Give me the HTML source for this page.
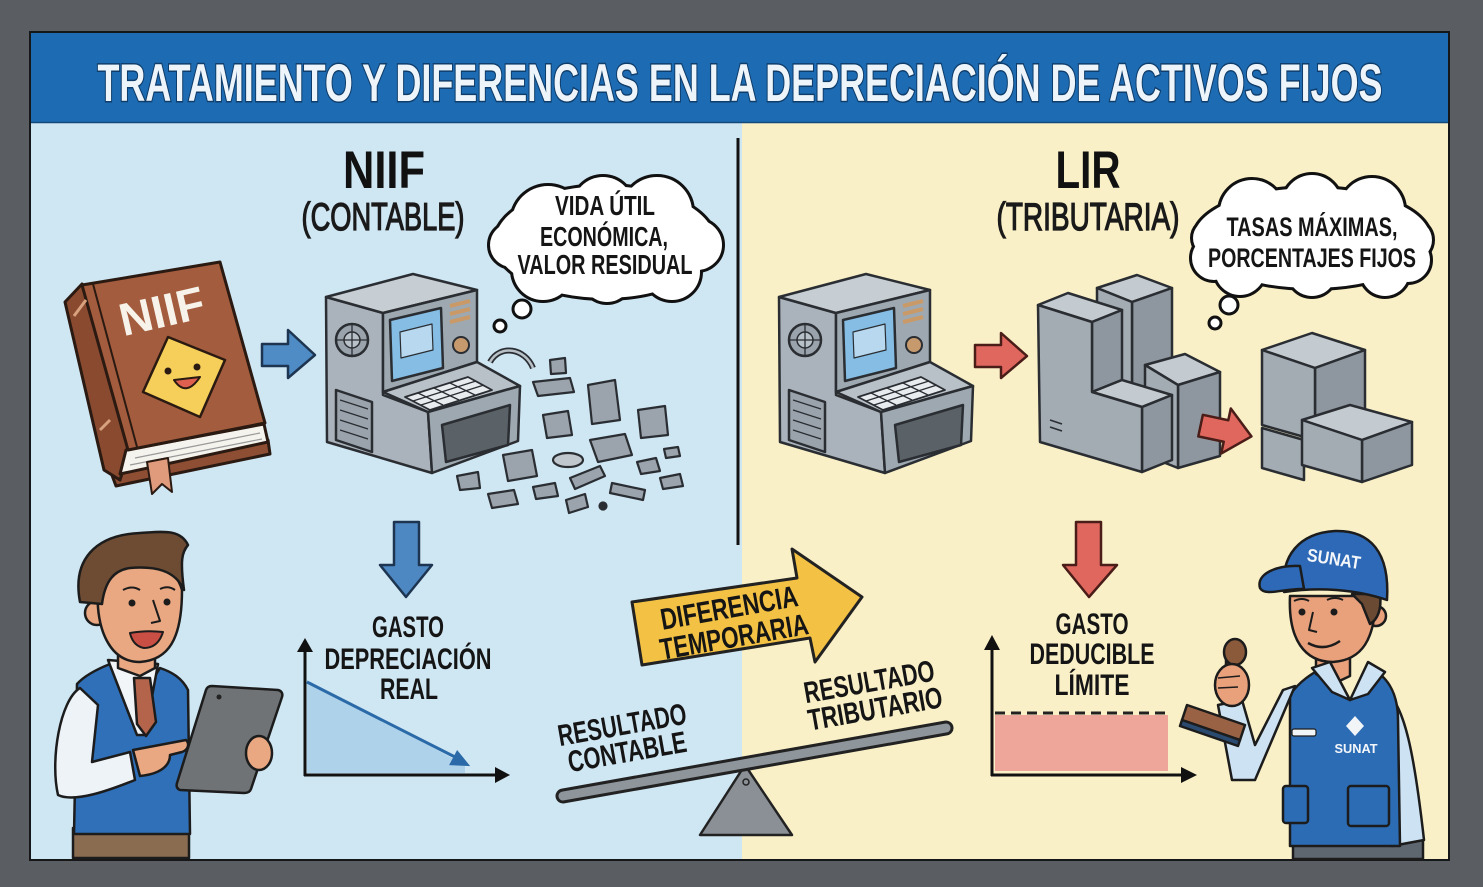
<!DOCTYPE html>
<html><head><meta charset="utf-8">
<style>
html,body{margin:0;padding:0;background:#5a5e62;}
svg{display:block;}
text{font-family:"Liberation Sans",Arial,sans-serif;font-weight:bold;}
</style></head><body>
<svg width="1483" height="887" viewBox="0 0 1483 887" xmlns="http://www.w3.org/2000/svg">
<rect width="1483" height="887" fill="#5a5e62"/>
<rect x="29" y="31" width="1421" height="830" fill="#161718"/>
<rect x="31" y="122" width="711" height="737" fill="#cfe6f3"/>
<rect x="742" y="122" width="706" height="737" fill="#faf0c7"/>
<rect x="31" y="33" width="1417" height="90" fill="#1d6cb3"/>
<line x1="31" y1="122.5" x2="1448" y2="122.5" stroke="#15497a" stroke-width="1.5"/>
<line x1="738" y1="138" x2="738" y2="545" stroke="#111" stroke-width="3"/>

<!-- Title -->
<text x="740" y="101" text-anchor="middle" font-size="53" fill="#eef5fa" stroke="#0f3d6b" stroke-width="3" paint-order="stroke" textLength="1285" lengthAdjust="spacingAndGlyphs">TRATAMIENTO Y DIFERENCIAS EN LA DEPRECIACIÓN DE ACTIVOS FIJOS</text>

<!-- Headings -->
<text x="384" y="188" text-anchor="middle" font-size="53" fill="#111" textLength="82" lengthAdjust="spacingAndGlyphs">NIIF</text>
<text x="383" y="230" text-anchor="middle" font-size="39" fill="#1a1a1a" style="font-weight:normal" stroke="#1a1a1a" stroke-width="1.3" textLength="163" lengthAdjust="spacingAndGlyphs">(CONTABLE)</text>
<text x="1088" y="188" text-anchor="middle" font-size="53" fill="#111" textLength="65" lengthAdjust="spacingAndGlyphs">LIR</text>
<text x="1088" y="230" text-anchor="middle" font-size="39" fill="#1a1a1a" style="font-weight:normal" stroke="#1a1a1a" stroke-width="1.3" textLength="183" lengthAdjust="spacingAndGlyphs">(TRIBUTARIA)</text>

<!-- Left cloud -->
<g fill="#fff" stroke="#111" stroke-width="6">
<circle cx="548" cy="222" r="36"/><circle cx="603" cy="207" r="30"/><circle cx="657" cy="212" r="35"/><circle cx="697" cy="245" r="25"/><circle cx="672" cy="272" r="28"/><circle cx="607" cy="277" r="25"/><circle cx="543" cy="270" r="30"/><circle cx="512" cy="245" r="22"/><ellipse cx="605" cy="242" rx="110" ry="56"/>
</g>
<g fill="#fff">
<circle cx="548" cy="222" r="36"/><circle cx="603" cy="207" r="30"/><circle cx="657" cy="212" r="35"/><circle cx="697" cy="245" r="25"/><circle cx="672" cy="272" r="28"/><circle cx="607" cy="277" r="25"/><circle cx="543" cy="270" r="30"/><circle cx="512" cy="245" r="22"/><ellipse cx="605" cy="242" rx="110" ry="56"/>
</g>
<circle cx="522" cy="309" r="9" fill="#fff" stroke="#111" stroke-width="3"/>
<circle cx="500" cy="326" r="6" fill="#fff" stroke="#111" stroke-width="3"/>
<text x="605" y="215" text-anchor="middle" font-size="28" fill="#151515" textLength="100" lengthAdjust="spacingAndGlyphs">VIDA ÚTIL</text>
<text x="604" y="246" text-anchor="middle" font-size="28" fill="#151515" textLength="128" lengthAdjust="spacingAndGlyphs">ECONÓMICA,</text>
<text x="605" y="274" text-anchor="middle" font-size="28" fill="#151515" textLength="175" lengthAdjust="spacingAndGlyphs">VALOR RESIDUAL</text>

<!-- Right cloud -->
<g fill="#fff" stroke="#111" stroke-width="6">
<circle cx="1252" cy="212" r="32"/><circle cx="1312" cy="204" r="29"/><circle cx="1372" cy="210" r="32"/><circle cx="1412" cy="240" r="20"/><circle cx="1408" cy="260" r="22"/><circle cx="1385" cy="272" r="24"/><circle cx="1312" cy="272" r="24"/><circle cx="1240" cy="270" r="25"/><circle cx="1214" cy="258" r="22"/><circle cx="1211" cy="238" r="18"/><ellipse cx="1312" cy="238" rx="118" ry="50"/>
</g>
<g fill="#fff">
<circle cx="1252" cy="212" r="32"/><circle cx="1312" cy="204" r="29"/><circle cx="1372" cy="210" r="32"/><circle cx="1412" cy="240" r="20"/><circle cx="1408" cy="260" r="22"/><circle cx="1385" cy="272" r="24"/><circle cx="1312" cy="272" r="24"/><circle cx="1240" cy="270" r="25"/><circle cx="1214" cy="258" r="22"/><circle cx="1211" cy="238" r="18"/><ellipse cx="1312" cy="238" rx="118" ry="50"/>
</g>
<circle cx="1229" cy="305" r="9" fill="#fff" stroke="#111" stroke-width="3"/>
<circle cx="1215" cy="323" r="6" fill="#fff" stroke="#111" stroke-width="3"/>
<text x="1312" y="236" text-anchor="middle" font-size="27" fill="#151515" textLength="171" lengthAdjust="spacingAndGlyphs">TASAS MÁXIMAS,</text>
<text x="1312" y="267" text-anchor="middle" font-size="27" fill="#151515" textLength="208" lengthAdjust="spacingAndGlyphs">PORCENTAJES FIJOS</text>

<!-- Book -->
<g stroke="#2a1a12" stroke-width="3" stroke-linejoin="round">
<polygon points="110,470 268,440 270,454 116,486" fill="#8e4e33"/>
<polygon points="65,302 82,284 130,448 120,480 104,470" fill="#8a4a2f"/>
<polygon points="126,450 264,424 268,442 120,474" fill="#f5f3ee"/>
<polygon points="82,285 220,262 265,423 128,450" fill="#a35c3d"/>
<line x1="93" y1="284" x2="137" y2="447" stroke-width="2"/>
<line x1="74" y1="316" x2="86" y2="300" stroke="#d9a27f" stroke-width="3"/>
<line x1="100" y1="430" x2="110" y2="420" stroke="#d9a27f" stroke-width="3"/>
<line x1="135" y1="458" x2="260" y2="433" stroke="#999" stroke-width="1.2"/>
<line x1="130" y1="465" x2="262" y2="439" stroke="#999" stroke-width="1.2"/>
<polygon points="147,462 168,458 172,492 162,484 152,494" fill="#e09a7c" stroke-width="2"/>
<polygon points="168,337 225,360 200,417 143,392" fill="#f5cf59" stroke-width="2.5"/>
<circle cx="168" cy="371" r="3.5" fill="#2a1a12" stroke="none"/>
<circle cx="197" cy="367" r="3.5" fill="#2a1a12" stroke="none"/>
<path d="M174,380 Q186,398 200,377 Z" fill="#e0604f" stroke-width="2"/>
</g>
<text x="162" y="327" text-anchor="middle" font-size="46" fill="#f7f2ea" transform="rotate(-13 162 312)" textLength="86" lengthAdjust="spacingAndGlyphs">NIIF</text>

<!-- Blue arrow -->
<polygon points="262,344 288,344 288,330 315,355 288,378 288,366 262,366" fill="#4f8bc4" stroke="#1d3550" stroke-width="2.5" stroke-linejoin="round"/>

<!-- Left computer -->
<g id="comp" stroke="#2a2e33" stroke-width="2.5" stroke-linejoin="round">
<polygon points="326,297 383,313 383,395 428,412 432,473 327,442" fill="#aab3bb"/>
<polygon points="326,297 413,274 477,290 383,313" fill="#c6cdd3"/>
<polygon points="383,313 477,290 477,362 383,392" fill="#9ea8b0"/>
<polygon points="390,320 441,308 443,368 392,381" fill="#86bde4"/>
<polygon points="400,332 432,324 433,350 401,358" fill="#b7d8ef" stroke-width="1.2"/>
<line x1="450" y1="306" x2="470" y2="301" stroke="#c99a68" stroke-width="4"/>
<line x1="450" y1="314" x2="470" y2="309" stroke="#c99a68" stroke-width="4"/>
<line x1="450" y1="322" x2="470" y2="317" stroke="#c99a68" stroke-width="4"/>
<circle cx="461" cy="345" r="8" fill="#c79a6e" stroke-width="2"/>
<polygon points="383,392 477,362 520,386 428,412" fill="#b9c1c8"/>
<polygon points="405,397 468,377 492,390 430,410" fill="#e8ecef" stroke-width="1.8"/>
<line x1="413" y1="401" x2="476" y2="381" stroke-width="1.3"/>
<line x1="421" y1="405" x2="484" y2="385" stroke-width="1.3"/>
<line x1="418" y1="393" x2="443" y2="405" stroke-width="1.3"/>
<line x1="434" y1="388" x2="459" y2="400" stroke-width="1.3"/>
<line x1="450" y1="383" x2="475" y2="395" stroke-width="1.3"/>
<polygon points="428,412 520,386 518,441 432,473" fill="#9ea8b0"/>
<polygon points="442,425 510,405 508,445 446,462" fill="#5a6167"/>
<circle cx="352" cy="340" r="16" fill="#9aa3ab"/>
<circle cx="352" cy="340" r="8" fill="#b9c1c8" stroke-width="1.5"/>
<line x1="336" y1="340" x2="368" y2="340" stroke-width="1.3"/>
<line x1="352" y1="324" x2="352" y2="356" stroke-width="1.3"/>
<polygon points="336,390 372,402 372,452 336,440" fill="#9aa3ab"/>
<line x1="340" y1="400" x2="368" y2="409" stroke-width="1.3"/>
<line x1="340" y1="410" x2="368" y2="419" stroke-width="1.3"/>
<line x1="340" y1="420" x2="368" y2="429" stroke-width="1.3"/>
<line x1="340" y1="430" x2="368" y2="439" stroke-width="1.3"/>
</g>
<!-- Right computer -->
<use href="#comp" transform="translate(453,0)"/>

<!-- Debris -->
<g stroke="#2a2e33" stroke-width="2.2" fill="#9ba4ac" stroke-linejoin="round">
<path d="M490,362 C500,344 525,348 533,368" fill="none" stroke-width="6"/>
<path d="M490,362 C500,344 525,348 533,368" fill="none" stroke="#b9c1c8" stroke-width="2.5"/>
<polygon points="533,382 570,378 574,392 538,396"/>
<polygon points="550,360 565,358 566,373 551,374"/>
<polygon points="588,385 615,380 620,420 592,424"/>
<polygon points="638,410 665,406 668,435 641,438"/>
<polygon points="543,415 568,411 572,435 547,438"/>
<polygon points="590,440 625,434 632,455 598,462"/>
<ellipse cx="568" cy="460" rx="15" ry="7" fill="#c0c7cd"/>
<polygon points="503,455 532,450 537,476 508,481"/>
<polygon points="637,462 656,458 660,471 641,474"/>
<polygon points="664,449 678,447 680,456 666,458"/>
<polygon points="660,478 680,474 683,486 663,489"/>
<polygon points="570,478 600,466 605,476 575,489"/>
<polygon points="612,483 645,490 643,500 610,493"/>
<polygon points="533,487 555,483 558,496 536,499"/>
<polygon points="488,494 514,490 518,504 492,508"/>
<polygon points="566,500 585,494 588,507 569,513"/>
<circle cx="603" cy="506" r="3.5" fill="#2a2e33"/>
<polygon points="457,476 478,472 480,488 460,490"/>
</g>

<!-- Red arrow 1 -->
<polygon points="975,345 1001,345 1001,333 1027,356 1001,378 1001,367 975,367" fill="#e0675d" stroke="#4a1d18" stroke-width="2.5" stroke-linejoin="round"/>

<!-- Blocks -->
<g stroke="#2a2e33" stroke-width="2.5" stroke-linejoin="round">
<polygon points="1097,288 1137,275 1172,288 1132,302" fill="#c3cad0"/>
<polygon points="1132,302 1172,288 1172,385 1132,398" fill="#8e979f"/>
<polygon points="1097,288 1132,302 1132,398 1097,385" fill="#a3abb3"/>
<polygon points="1145,365 1185,354 1220,372 1178,385" fill="#c3cad0"/>
<polygon points="1178,385 1220,372 1220,456 1178,468" fill="#8e979f"/>
<polygon points="1145,365 1178,385 1178,468 1145,455" fill="#a3abb3"/>
<polygon points="1038,305 1068,293 1122,310 1092,322" fill="#c3cad0"/>
<polygon points="1092,322 1122,310 1122,380 1092,392" fill="#8e979f"/>
<polygon points="1092,392 1122,380 1172,395 1142,407" fill="#c3cad0"/>
<polygon points="1142,407 1172,395 1172,460 1142,472" fill="#8e979f"/>
<polygon points="1038,305 1092,322 1092,392 1142,407 1142,472 1040,442" fill="#a3abb3"/>
<line x1="1050" y1="420" x2="1062" y2="424" stroke-width="1.5"/>
<line x1="1050" y1="427" x2="1062" y2="431" stroke-width="1.5"/>
<polygon points="1262,350 1312,333 1365,350 1315,368" fill="#c3cad0"/>
<polygon points="1315,368 1365,350 1365,420 1315,440" fill="#8e979f"/>
<polygon points="1262,350 1315,368 1315,440 1262,425" fill="#a3abb3"/>
<polygon points="1262,428 1304,440 1304,480 1262,468" fill="#a3abb3"/>
<polygon points="1302,420 1350,405 1412,422 1362,440" fill="#c3cad0"/>
<polygon points="1362,440 1412,422 1412,465 1362,482" fill="#8e979f"/>
<polygon points="1302,420 1362,440 1362,482 1302,465" fill="#a3abb3"/>
</g>
<!-- Red arrow 2 -->
<polygon points="1200,420 1226,420 1226,408 1252,431 1226,454 1226,442 1200,442" fill="#e0675d" stroke="#4a1d18" stroke-width="2.5" stroke-linejoin="round" transform="rotate(12 1226 431)"/>

<!-- Down arrows -->
<polygon points="394,522 419,522 419,565 432,565 406,597 380,565 394,565" fill="#4e88c2" stroke="#1d3550" stroke-width="2.5" stroke-linejoin="round"/>
<polygon points="1076,522 1101,522 1101,565 1117,565 1089,597 1063,565 1076,565" fill="#e0675d" stroke="#4a1d18" stroke-width="2.5" stroke-linejoin="round"/>

<!-- Gasto texts -->
<text x="408" y="637" text-anchor="middle" font-size="30" fill="#151515" textLength="72" lengthAdjust="spacingAndGlyphs">GASTO</text>
<text x="408" y="669" text-anchor="middle" font-size="30" fill="#151515" textLength="167" lengthAdjust="spacingAndGlyphs">DEPRECIACIÓN</text>
<text x="409" y="699" text-anchor="middle" font-size="30" fill="#151515" textLength="58" lengthAdjust="spacingAndGlyphs">REAL</text>
<text x="1092" y="634" text-anchor="middle" font-size="30" fill="#151515" textLength="73" lengthAdjust="spacingAndGlyphs">GASTO</text>
<text x="1092" y="664" text-anchor="middle" font-size="30" fill="#151515" textLength="125" lengthAdjust="spacingAndGlyphs">DEDUCIBLE</text>
<text x="1092" y="695" text-anchor="middle" font-size="30" fill="#151515" textLength="75" lengthAdjust="spacingAndGlyphs">LÍMITE</text>

<!-- Left chart -->
<polygon points="307,680 465,765 465,773 307,773" fill="#aed2ea"/>
<line x1="307" y1="682" x2="455" y2="757" stroke="#2b6aa8" stroke-width="3"/>
<polygon points="468,765 450.7,764.2 457.3,751.8" fill="#2b6aa8" stroke="#2b6aa8" stroke-width="2"/>
<line x1="305" y1="650" x2="305" y2="776" stroke="#111" stroke-width="3"/>
<polygon points="297,652 305,638 313,652" fill="#111"/>
<line x1="304" y1="775" x2="497" y2="775" stroke="#111" stroke-width="3"/>
<polygon points="495,767 510,775 495,783" fill="#111"/>

<!-- Right chart -->
<rect x="995" y="715" width="173" height="56" fill="#eea69b"/>
<line x1="995" y1="713" x2="1168" y2="713" stroke="#222" stroke-width="3" stroke-dasharray="10 6"/>
<line x1="992" y1="650" x2="992" y2="776" stroke="#111" stroke-width="3"/>
<polygon points="984,650 992,635 1000,650" fill="#111"/>
<line x1="991" y1="775" x2="1183" y2="775" stroke="#111" stroke-width="3"/>
<polygon points="1181,767 1197,775 1181,783" fill="#111"/>

<!-- Diferencia arrow -->
<polygon points="632,602 797,578 792,549 862,597 815,662 810,638 642,665" fill="#f3c244" stroke="#222" stroke-width="3" stroke-linejoin="round"/>
<text x="729" y="618" text-anchor="middle" font-size="30" fill="#151515" transform="rotate(-10 729 607)" textLength="139" lengthAdjust="spacingAndGlyphs">DIFERENCIA</text>
<text x="734" y="647" text-anchor="middle" font-size="30" fill="#151515" transform="rotate(-10 734 636)" textLength="150" lengthAdjust="spacingAndGlyphs">TEMPORARIA</text>

<!-- Seesaw -->
<polygon points="745,765 700,835 792,835" fill="#8a9096" stroke="#222" stroke-width="2.5" stroke-linejoin="round"/>
<circle cx="746" cy="782" r="3" fill="none" stroke="#222" stroke-width="1.5"/>
<line x1="563" y1="796" x2="946" y2="728" stroke="#222" stroke-width="15" stroke-linecap="round"/>
<line x1="563" y1="796" x2="946" y2="728" stroke="#8e959b" stroke-width="9" stroke-linecap="round"/>
<text x="622" y="735" text-anchor="middle" font-size="30" fill="#151515" transform="rotate(-10 622 724)" textLength="130" lengthAdjust="spacingAndGlyphs">RESULTADO</text>
<text x="627" y="762" text-anchor="middle" font-size="30" fill="#151515" transform="rotate(-10 627 751)" textLength="120" lengthAdjust="spacingAndGlyphs">CONTABLE</text>
<text x="869" y="692" text-anchor="middle" font-size="30" fill="#151515" transform="rotate(-10 869 681)" textLength="132" lengthAdjust="spacingAndGlyphs">RESULTADO</text>
<text x="875" y="719" text-anchor="middle" font-size="30" fill="#151515" transform="rotate(-10 875 708)" textLength="136" lengthAdjust="spacingAndGlyphs">TRIBUTARIO</text>

<!-- Left person -->
<g stroke="#1c1c1c" stroke-width="2.5" stroke-linejoin="round">
<rect x="73" y="828" width="116" height="30" fill="#8a6c51"/>
<path d="M77,684 C85,675 100,668 110,664 L140,700 L160,668 C172,672 182,678 188,690 L190,834 L74,834 Z" fill="#2f70b9"/>
<polygon points="108,660 158,664 145,735 137,735" fill="#f2f5f8"/>
<polygon points="134,678 150,678 156,722 146,736 137,724" fill="#b4644a"/>
<path d="M118,645 L155,645 L155,668 L140,676 L118,668 Z" fill="#e9a882"/>
<path d="M80,688 C60,700 50,760 58,795 C75,803 110,790 135,780 L130,752 L92,762 L98,705 Z" fill="#eef3f7"/>
<path d="M133,750 L186,740 C190,744 188,750 182,752 L170,755 C170,766 160,774 140,776 Z" fill="#e9a882"/>
<path d="M212,686 L278,690 C282,691 283,694 282,697 L251,789 C250,792 247,793 244,793 L180,790 C177,789 176,786 177,783 L206,690 C207,687 209,686 212,686 Z" fill="#6f7376"/>
<circle cx="219" cy="697" r="2.5" fill="#222" stroke="none"/>
<ellipse cx="259" cy="753" rx="13" ry="17" fill="#e9a882"/>
<circle cx="97" cy="613" r="12" fill="#e9a882"/>
<path d="M98,585 C95,630 110,662 140,662 C168,660 182,640 182,590 C175,565 150,560 130,565 C115,570 100,575 98,585 Z" fill="#e9a882"/>
<path d="M80,602 C72,560 95,535 140,533 C160,532 180,528 188,545 C182,552 180,560 184,590 C175,570 155,566 130,568 C115,570 105,580 102,604 Z" fill="#6e4b33"/>
<circle cx="132" cy="603" r="3.5" fill="#1c1c1c" stroke="none"/>
<circle cx="167" cy="602" r="3.5" fill="#1c1c1c" stroke="none"/>
<path d="M123,590 Q132,585 140,590" fill="none" stroke-width="2"/>
<path d="M160,589 Q168,585 175,590" fill="none" stroke-width="2"/>
<path d="M153,600 L160,621 L151,623" fill="none" stroke-width="2"/>
<path d="M130,633 Q146,630 163,632 Q158,648 144,648 Q133,646 130,633 Z" fill="#c94f45" stroke-width="2"/>
</g>

<!-- Right person (SUNAT) -->
<g stroke="#1c1c1c" stroke-width="2.5" stroke-linejoin="round">
<rect x="1293" y="840" width="130" height="19" fill="#5e6670"/>
<path d="M1383,690 C1405,700 1415,760 1424,840 L1392,846 L1385,760 Z" fill="#cde2f3"/>
<path d="M1290,695 C1300,680 1315,672 1322,668 L1350,700 L1370,668 C1385,675 1398,690 1398,720 L1400,846 L1290,846 Z" fill="#2c6cb5"/>
<rect x="1283" y="786" width="25" height="37" rx="3" fill="#2c6cb5"/>
<rect x="1348" y="786" width="41" height="40" rx="3" fill="#2c6cb5"/>
<rect x="1292" y="729" width="24" height="7" rx="2" fill="#f2f5f8" stroke-width="1.2"/>
<polygon points="1355,716 1364,726 1355,736 1346,726" fill="#f2f5f8" stroke="none"/>
<path d="M1316,650 L1350,650 L1350,676 L1333,684 L1316,674 Z" fill="#e9a17c"/>
<polygon points="1312,668 1330,662 1350,700 1332,692" fill="#cde2f3"/>
<polygon points="1350,700 1368,662 1385,672 1368,694" fill="#cde2f3"/>
<polygon points="1295,686 1255,780 1232,780 1218,705 1242,700 1255,745 1283,690" fill="#cde2f3"/>
<polygon points="1187,705 1245,725 1240,740 1182,720" fill="#9a6244"/>
<polygon points="1182,720 1240,740 1238,746 1180,726" fill="#2b4a70"/>
<rect x="1226" y="660" width="12" height="14" fill="#8b5a3b"/>
<ellipse cx="1235" cy="652" rx="11" ry="13" fill="#8b5a3b"/>
<ellipse cx="1232" cy="685" rx="17" ry="21" fill="#e9a17c"/>
<path d="M1218,678 L1240,676 M1218,688 L1238,687" fill="none" stroke-width="1.5"/>
<circle cx="1376" cy="616" r="10" fill="#e9a17c"/>
<path d="M1290,596 C1288,640 1305,662 1333,662 C1362,660 1375,640 1376,596 Z" fill="#e9a17c"/>
<path d="M1352,594 L1380,594 C1382,610 1377,620 1370,624 L1362,604 Z" fill="#6b4a33"/>
<path d="M1284,592 C1280,555 1300,533 1335,531 C1370,530 1390,552 1387,600 C1355,589 1318,587 1284,592 Z" fill="#2d69b6"/>
<path d="M1260,588 C1256,574 1276,565 1300,566 L1304,589 C1285,588 1265,597 1260,588 Z" fill="#2d69b6"/>
<circle cx="1302" cy="612" r="3.5" fill="#1c1c1c" stroke="none"/>
<circle cx="1334" cy="612" r="3.5" fill="#1c1c1c" stroke="none"/>
<path d="M1294,601 Q1302,597 1309,601" fill="none" stroke-width="2"/>
<path d="M1327,600 Q1335,596 1343,600" fill="none" stroke-width="2"/>
<path d="M1313,612 L1309,630 L1317,632" fill="none" stroke-width="2"/>
<path d="M1308,643 Q1324,652 1340,641" fill="none" stroke-width="2.5"/>
</g>
<text x="1334" y="565" text-anchor="middle" font-size="18" fill="#f4f7fa" transform="rotate(9 1334 558)" textLength="54" lengthAdjust="spacingAndGlyphs">SUNAT</text>
<text x="1356" y="753" text-anchor="middle" font-size="13" fill="#f4f7fa" textLength="43" lengthAdjust="spacingAndGlyphs">SUNAT</text>
</svg>
</body></html>
